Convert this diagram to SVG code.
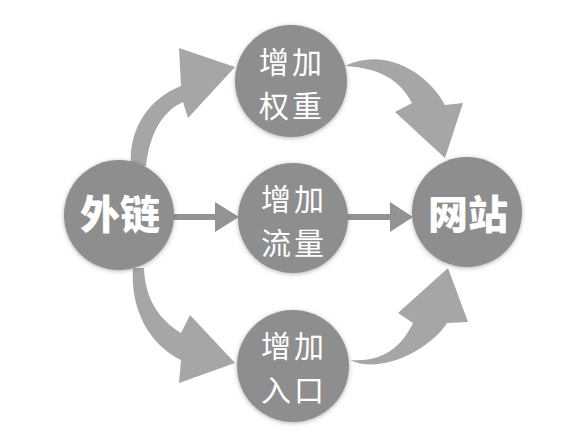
<svg xmlns="http://www.w3.org/2000/svg" width="583" height="442" viewBox="0 0 583 442">
<defs>
<filter id="soft" x="-20%" y="-20%" width="140%" height="140%">
<feDropShadow dx="0" dy="1" stdDeviation="2" flood-color="#555" flood-opacity="0.45"/>
</filter>
</defs>
<style>
.node{fill:#8e8e8e;filter:url(#soft)}
.arr{fill:#a6a6a6}
.harr{fill:#939393}
.t{fill:#fff;font-family:"Noto Sans CJK SC","Noto Sans",sans-serif;text-anchor:middle}
.big{font-size:40px;font-weight:900}
.sm{font-size:30px;font-weight:400;letter-spacing:3px}
</style>
<rect width="583" height="442" fill="#fff"/>
<g id="connectors">
<path class="arr" d="M131 166 C128 128 150 98 181 86 L179 48 L235 67 L188 118 L183 102 C165 110 150 130 146 166 Z"/>
<path class="arr" d="M345 66 C380 48 425 68 445 105 L463 103 L445 158 L395 112 L412 103 C400 80 380 68 345 66 Z"/>
<path class="arr" d="M133 268 C130 310 150 345 181 360 L179 383 L235 363 L190 315 L181 333 C160 320 145 300 144 268 Z"/>
<path class="arr" d="M350 360 C380 375 430 350 447 323 L468 322 L448 268 L398 313 L413 323 C400 350 380 362 350 360 Z"/>
<rect class="harr" x="172" y="214" width="46" height="6"/>
<polygon class="harr" points="215,202 239,217 215,232"/>
<rect class="harr" x="347" y="214" width="46" height="6"/>
<polygon class="harr" points="390,202 413,217 390,232"/>
</g>
<g id="n-wailian">
<circle class="node" cx="119" cy="215" r="55"/>
<text class="t big" x="120" y="229">外链</text>
</g>
<g id="n-wangzhan">
<circle class="node" cx="467" cy="212" r="55"/>
<text class="t big" x="468" y="229">网站</text>
</g>
<g id="n-quanzhong">
<circle class="node" cx="291" cy="81" r="56"/>
<text class="t sm" x="292" y="73">增加</text>
<text class="t sm" x="292" y="117">权重</text>
</g>
<g id="n-liuliang">
<circle class="node" cx="293" cy="218" r="55"/>
<text class="t sm" x="294" y="210">增加</text>
<text class="t sm" x="294" y="254">流量</text>
</g>
<g id="n-rukou">
<circle class="node" cx="293" cy="366" r="56"/>
<text class="t sm" x="294" y="357">增加</text>
<text class="t sm" x="294" y="401">入口</text>
</g>
</svg>
